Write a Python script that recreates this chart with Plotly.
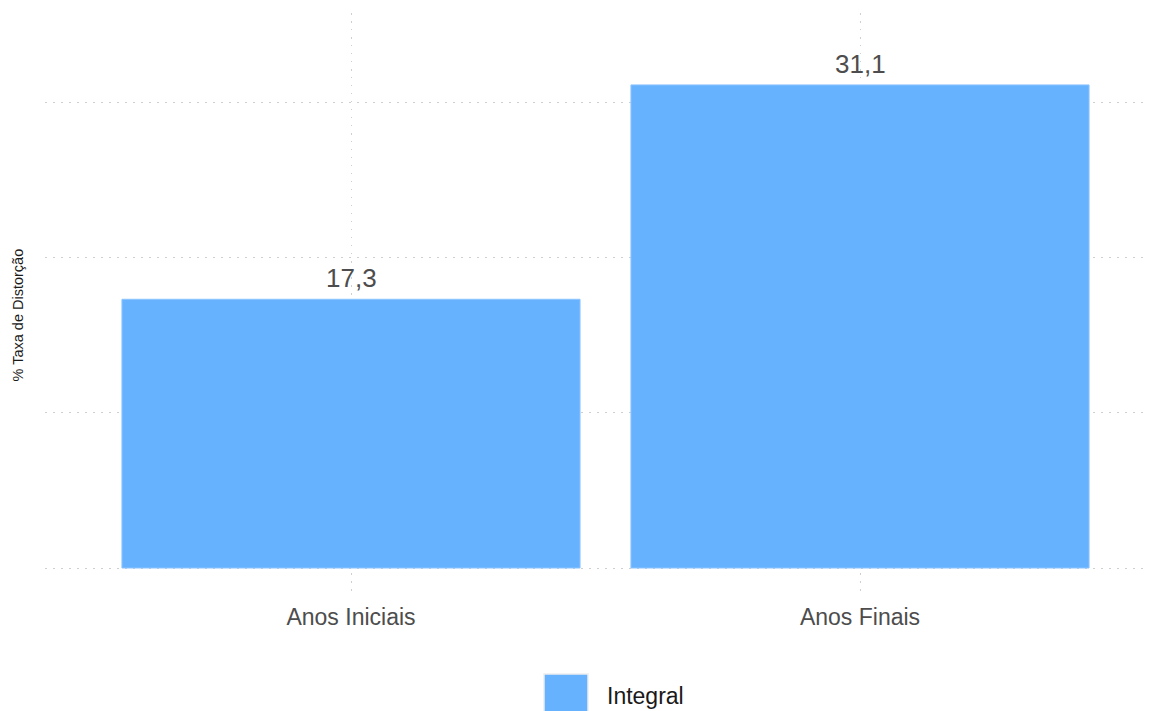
import plotly.graph_objects as go

categories = ["Anos Iniciais", "Anos Finais"]
values = [17.3, 31.1]
value_labels = ["17,3", "31,1"]
series_name = "Integral"
y_gridvals = [0, 10, 20, 30]

BAR_COLOR = "#66b2ff"
TEXT_GRAY = "#4d4d4d"
GRID = "#cfcfcf"
FONT = "Liberation Sans, Arial, Helvetica, sans-serif"

# the page body adds an 8px offset; all pixel targets below are screen pixels
OFF = 8
W, H = 1157 - OFF, 711 - OFF
L = 45 - OFF
T = 13 - OFF
B = H - (595 - OFF)
R = 0
plot_w = W - L - R
plot_h = H - T - B

def px_x(px):
    return (px - OFF - L) / plot_w

def px_y(py):
    return (H - B - (py - OFF)) / plot_h

fig = go.Figure()
fig.add_trace(go.Bar(
    x=categories,
    y=values,
    name=series_name,
    width=0.9,
    marker=dict(color=BAR_COLOR, line=dict(color="#8cc4ff", width=1)),
    showlegend=False,
))

for c, v, lab in zip(categories, values, value_labels):
    fig.add_annotation(x=c, y=v, text=lab, showarrow=False,
                       yanchor="bottom", yshift=4,
                       font=dict(size=26, color=TEXT_GRAY, family=FONT))

# legend drawn as key + label below the plot
fig.add_shape(type="rect", xref="paper", yref="paper",
              x0=px_x(544), x1=px_x(588), y0=px_y(674), y1=px_y(730),
              fillcolor=BAR_COLOR, line=dict(color="#eeeeee", width=1.5))
fig.add_annotation(xref="paper", yref="paper", x=px_x(605), y=px_y(696),
                   text=series_name, showarrow=False, xanchor="left", yanchor="middle",
                   font=dict(size=23, color="#1a1a1a", family=FONT))

# y axis title
fig.add_annotation(xref="paper", yref="paper", x=px_x(18), y=px_y(315.5),
                   text="% Taxa de Distorção", textangle=-90, showarrow=False,
                   xanchor="center", yanchor="middle",
                   font=dict(size=14.5, color="#1a1a1a", family=FONT))

x_px_per_unit = 509
fig.update_xaxes(
    range=[-(351 - 45) / x_px_per_unit, (W + OFF - 351) / x_px_per_unit],
    showgrid=True, gridcolor=GRID, griddash="1.5px,6.5px", gridwidth=1.2,
    zeroline=False, showline=False, ticks="",
    tickfont=dict(size=23, color=TEXT_GRAY, family=FONT),
    ticklabelstandoff=6,
)
y_px_per_unit = (568 - 102) / 30
fig.update_yaxes(
    range=[-(595 - 568) / y_px_per_unit, (568 - 13) / y_px_per_unit],
    tickvals=y_gridvals, showticklabels=False,
    showgrid=True, gridcolor=GRID, griddash="1.5px,6.5px", gridwidth=1.2,
    zeroline=False, showline=False, ticks="",
)

fig.update_layout(
    width=W, height=H,
    margin=dict(l=L, r=R, t=T, b=B, autoexpand=False),
    plot_bgcolor="white", paper_bgcolor="white",
    font=dict(family=FONT),
    showlegend=False,
    bargap=0.1,
)

fig.write_html("out.html")
